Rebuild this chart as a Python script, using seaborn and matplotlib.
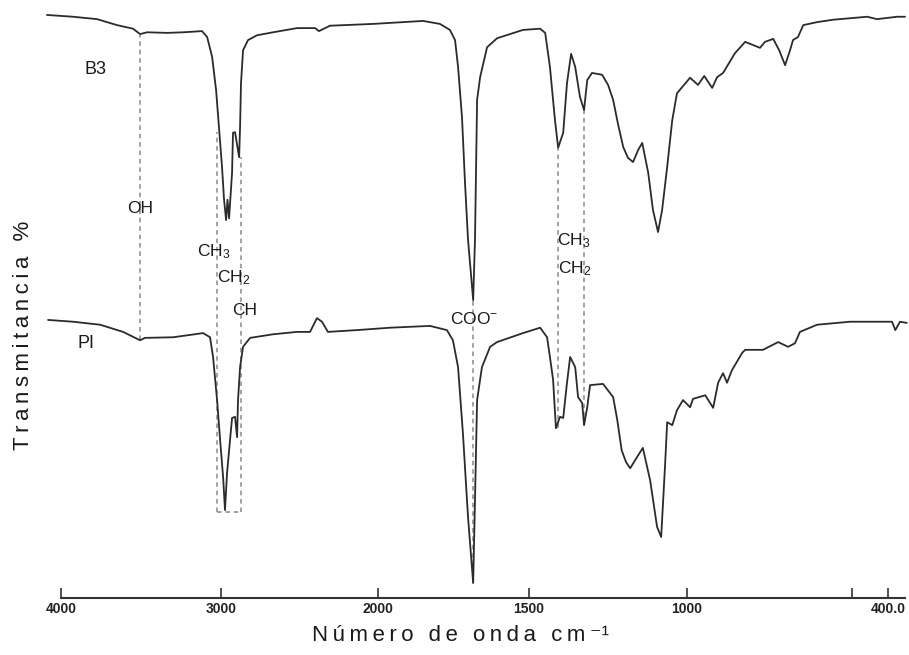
import numpy as np
import pandas as pd
import matplotlib
matplotlib.use("Agg")
import matplotlib.pyplot as plt
import seaborn as sns

# ---- spectra: wavenumber (cm-1) and transmittance (%, stacked traces) ----
b3_wn = [4089, 3925, 3775, 3650, 3550, 3506, 3462, 3337, 3237, 3119, 3087, 3056,
         3031, 3012, 2994, 2981, 2968, 2959, 2949, 2930, 2924, 2911, 2885, 2879,
         2873, 2860, 2828, 2771, 2669, 2516, 2401, 2376, 2306, 2032, 1851, 1795,
         1762, 1745, 1735, 1722, 1712, 1702, 1685, 1679, 1672, 1662, 1639, 1606,
         1520, 1465, 1449, 1434, 1418, 1408, 1392, 1380, 1367, 1354, 1339, 1326,
         1316, 1301, 1269, 1250, 1234, 1218, 1202, 1187, 1171, 1155, 1142, 1123,
         1108, 1092, 1079, 1063, 1047, 1032, 991, 967, 948, 924, 909, 891, 855,
         824, 779, 764, 739, 721, 703, 688, 679, 664, 648, 606, 558, 458, 431,
         375, 353]
b3_t = [97.5, 97.2, 96.8, 95.8, 95.2, 94.3, 94.6, 94.5, 94.6, 94.8, 93.8, 90.5,
        84.9, 78.3, 72.1, 66.6, 63.2, 66.6, 63.5, 71.1, 77.8, 77.9, 73.7, 78.8,
        86.1, 91.6, 93.3, 94.1, 94.6, 95.3, 95.3, 94.8, 95.7, 96.0, 96.5, 96.0,
        95.0, 93.3, 88.8, 80.4, 69.4, 59.9, 49.8, 59.9, 83.3, 87.1, 92.1, 93.6,
        95.0, 95.2, 94.5, 88.8, 79.9, 75.3, 77.8, 86.1, 91.0, 88.8, 83.8, 81.6,
        86.6, 87.8, 87.5, 85.8, 83.3, 79.1, 75.4, 73.6, 72.9, 74.9, 76.1, 71.1,
        64.9, 61.2, 64.9, 72.1, 79.9, 84.4, 87.0, 85.8, 87.3, 85.3, 87.1, 87.8,
        91.1, 93.0, 92.0, 93.0, 93.5, 91.6, 89.1, 91.6, 93.3, 93.8, 95.8, 96.3,
        96.7, 97.2, 96.8, 97.2, 97.2]

pi_wn = [4082, 3925, 3756, 3612, 3506, 3475, 3300, 3112, 3069, 3050, 3025, 3006,
         2987, 2975, 2962, 2943, 2930, 2911, 2898, 2892, 2879, 2860, 2815, 2669,
         2516, 2433, 2389, 2357, 2319, 2134, 1960, 1828, 1772, 1752, 1735, 1719,
         1702, 1685, 1679, 1672, 1656, 1629, 1606, 1520, 1465, 1443, 1434, 1424,
         1415, 1402, 1392, 1380, 1370, 1354, 1345, 1332, 1326, 1316, 1307, 1266,
         1234, 1221, 1207, 1193, 1180, 1158, 1140, 1117, 1095, 1082, 1070, 1063,
         1047, 1032, 1013, 991, 982, 945, 921, 906, 891, 879, 864, 833, 824, 770,
         724, 694, 673, 658, 606, 506, 414, 389, 380, 367, 348]
pi_t = [46.5, 46.2, 45.7, 44.5, 43.1, 43.5, 43.6, 44.3, 43.6, 40.3, 33.1, 26.4,
        20.2, 14.7, 20.9, 26.4, 30.1, 30.3, 26.9, 33.1, 38.6, 42.0, 43.5, 44.1,
        44.5, 44.5, 46.8, 46.2, 44.5, 44.8, 45.2, 45.5, 44.8, 43.1, 38.6, 27.6,
        13.5, 2.5, 16.4, 33.1, 38.6, 42.0, 42.8, 44.3, 45.2, 43.6, 40.3, 36.5,
        28.4, 30.3, 30.1, 36.0, 40.3, 38.6, 33.6, 32.6, 28.9, 31.9, 35.6, 35.8,
        33.6, 29.8, 24.7, 22.7, 21.7, 23.6, 25.1, 19.7, 11.9, 10.2, 21.9, 29.4,
        28.9, 31.4, 33.1, 31.9, 33.3, 33.9, 31.8, 36.0, 37.6, 36.0, 38.1, 41.0,
        41.5, 41.5, 42.8, 42.0, 42.6, 44.5, 45.7, 46.2, 46.2, 46.2, 44.8, 46.2,
        46.0]

# axis ticks of the wavenumber scale
tick_wn = [4000, 3000, 2000, 1500, 1000, 500, 400]
tick_labels = ["4000", "3000", "2000", "1500", "1000", "", "400.0"]

# band assignment markers: wavenumber, upper and lower transmittance
band_wn = [3506, 3027, 2873, 1687, 1409, 1325]
band_top = [94.1, 77.9, 73.7, 49.8, 75.3, 81.6]
band_bottom = [43.1, 14.4, 14.4, 2.5, 28.4, 28.9]

# band labels: text, wavenumber, transmittance, horizontal alignment
label_text = ["OH", "CH$_3$", "CH$_2$", "CH", "COO$^{-}$", "CH$_3$", "CH$_2$"]
label_wn = [3506, 3150, 3025, 2930, 1682, 1412, 1408]
label_t = [65.1, 57.9, 53.5, 48.0, 46.7, 59.7, 55.0]
label_ha = ["center", "left", "left", "left", "center", "left", "left"]

sample_names = ["B3", "PI"]
sample_wn = [3787, 3844]
sample_t = [88.3, 42.6]

# piecewise-linear chart scale (chart divisions per printed wavenumber);
# divisions grow towards low wavenumber, so the transform uses their negative
scale_wn = np.array([4400, 4000, 3000, 2000, 1500, 1000, 500, 400, 300], float)
scale_div = np.array([-0.40, 0.0, 1.013, 2.006, 2.962, 3.962, 5.006, 5.234, 5.462])


def to_div(x):
    return -np.interp(x, scale_wn[::-1], scale_div[::-1])


def to_wn(d):
    return np.interp(-np.asarray(d), scale_div, scale_wn)


sns.set_theme(style="white")
plt.rcParams["font.family"] = ["Liberation Sans", "DejaVu Sans"]
plt.rcParams["mathtext.fontset"] = "custom"
plt.rcParams["mathtext.rm"] = "Liberation Sans"
plt.rcParams["mathtext.it"] = "Liberation Sans"

fig = plt.figure(figsize=(9.09, 6.55), dpi=100)
fig.patch.set_facecolor("white")
ax = fig.add_axes([0.0, 57 / 655, 1.0, 598 / 655])
ax.set_facecolor("white")
ax.set_xscale("function", functions=(to_div, to_wn))

df = pd.concat([
    pd.DataFrame({"wn": b3_wn, "T": b3_t, "muestra": "B3"}),
    pd.DataFrame({"wn": pi_wn, "T": pi_t, "muestra": "PI"}),
])
for name, sub in df.groupby("muestra"):
    sns.lineplot(data=sub, x="wn", y="T", ax=ax, sort=False, estimator=None,
                 color="#2b2b2b", linewidth=1.3, legend=False)

dash_kw = dict(color="#8a8a8a", linewidth=1.1, linestyle=(0, (3, 2.5)), zorder=1)
for w, top, bot in zip(band_wn, band_top, band_bottom):
    ax.plot([w, w], [bot, top], **dash_kw)
# bracket closing the C-H stretching pair
ax.plot([band_wn[1], band_wn[2]], [band_bottom[1], band_bottom[2]], **dash_kw)

for txt, w, t, ha in zip(label_text, label_wn, label_t, label_ha):
    ax.text(w, t, txt, ha=ha, va="center", fontsize=12.5, color="#1a1a1a")
for txt, w, t in zip(sample_names, sample_wn, sample_t):
    ax.text(w, t, txt, ha="center", va="center", fontsize=13, color="#1a1a1a")

ax.set_xlim(4386, 342)
ax.set_ylim(0, 100)

for side in ["left", "top", "right"]:
    ax.spines[side].set_visible(False)
ax.spines["bottom"].set_bounds(4000, 353)
ax.spines["bottom"].set_color("#333333")
ax.spines["bottom"].set_linewidth(1.5)

ax.set_xticks(tick_wn)
ax.set_xticklabels(tick_labels)
ax.xaxis.set_minor_locator(matplotlib.ticker.NullLocator())
ax.tick_params(axis="x", direction="in", length=7, width=1.2, color="#333333",
               pad=3, bottom=True)
for lbl in ax.get_xticklabels():
    lbl.set_family(["Liberation Sans Narrow", "Liberation Sans", "DejaVu Sans"])
    lbl.set_weight("bold")
    lbl.set_fontsize(10)
    lbl.set_color("#222222")
ax.set_yticks([])

ts = "\u2009"
ax.set_xlabel(ts.join("Número de onda cm") + ts + "\u207b\u00b9", fontsize=16,
              color="#1a1a1a")
ax.xaxis.set_label_coords(0.507, -0.045)
ax.set_ylabel(ts.join("Transmitancia %"), fontsize=16, color="#1a1a1a")
ax.yaxis.label.set_verticalalignment("center")
ax.yaxis.set_label_coords(24 / 909, 0.44)

fig.savefig("out.png", dpi=100, facecolor="white")
